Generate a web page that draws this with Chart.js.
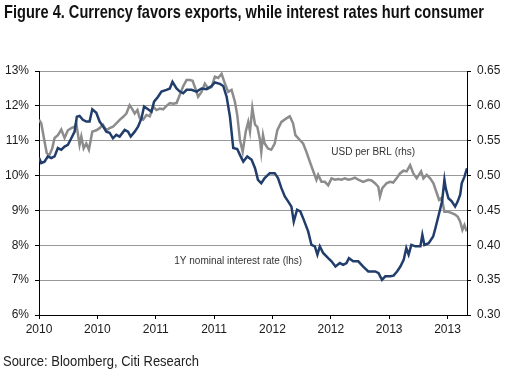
<!DOCTYPE html>
<html>
<head>
<meta charset="utf-8">
<script src="https://cdn.jsdelivr.net/npm/chart.js@4.4.0/dist/chart.umd.min.js"></script>
<style>
html, body { margin: 0; padding: 0; background: #fff; }
#wrap { position: relative; width: 506px; height: 380px; overflow: hidden; }
#chart { position: absolute; left: 0; top: 0; }
.txt { position: absolute; white-space: nowrap; transform-origin: 0 0; line-height: 1; }
#title { left: 4px; top: 1px; font: bold 19px "Liberation Sans Narrow", "Arial Narrow", "Liberation Sans", Arial, sans-serif; color: #111; }
#source { left: 3px; top: 352px; font: 15px "Liberation Sans", Arial, sans-serif; color: #222; }
</style>
</head>
<body>
<div id="wrap">
  <canvas id="chart" width="506" height="380"></canvas>
  <div id="title" class="txt">Figure 4. Currency favors exports, while interest rates hurt consumer</div>
  <div id="source" class="txt">Source: Bloomberg, Citi Research</div>
</div>
<script>
// months since Jan 2010
const rateMonths = [0, 0.23, 0.57, 0.91, 1.26, 1.6, 1.94, 2.29, 2.63, 2.97, 3.32, 3.66, 3.89, 4.17, 4.51, 4.86, 5.2, 5.48, 5.89, 6.23,
    6.57, 6.92, 7.26, 7.6, 7.95, 8.29, 8.81, 9.15, 9.43, 9.84, 10.18, 10.53, 10.8, 11.21, 11.56, 11.83, 12.24, 12.59, 13.11, 13.45,
    13.72, 14.14, 14.48, 14.82, 15.17, 15.68, 16.2, 16.71, 17.23, 17.74, 18.08, 18.6, 18.94, 19.29, 19.63, 19.97, 20.38, 20.73, 21.0, 21.41,
    21.86, 22.21, 22.51, 22.85, 23.2, 23.72, 24.23, 24.57, 24.92, 25.27, 25.61, 25.95, 26.19, 26.53, 26.87, 27.22, 27.67, 28.01, 28.36, 28.62,
    28.87, 29.21, 29.73, 30.07, 30.48, 30.93, 31.27, 31.61, 31.86, 32.3, 32.82, 33.33, 33.85, 34.05, 34.57, 34.91, 35.26, 35.6, 36.12, 36.45,
    36.81, 37.15, 37.49, 37.76, 38.0, 38.28, 38.69, 39.21, 39.41, 39.62, 40.06, 40.52, 40.75, 41.09, 41.44, 41.68, 41.81, 42.09, 42.43, 42.78,
    43.05, 43.3, 43.46, 43.74, 44.0];
const rateValues = [10.51, 10.36, 10.4, 10.55, 10.5, 10.55, 10.79, 10.74, 10.83, 10.88, 11.07, 11.26, 11.69, 11.71, 11.6, 11.55, 11.55, 11.9, 11.8, 11.55,
    11.42, 11.26, 11.23, 11.07, 11.17, 11.12, 11.31, 11.26, 11.12, 11.26, 11.4, 11.64, 11.98, 11.9, 11.83, 12.12, 12.26, 12.41, 12.46, 12.5,
    12.69, 12.5, 12.41, 12.36, 12.46, 12.46, 12.41, 12.5, 12.48, 12.57, 12.67, 12.63, 12.57, 12.26, 11.69, 10.79, 10.76, 10.55, 10.4, 10.55,
    10.45, 10.21, 9.88, 9.78, 9.93, 10.07, 10.07, 9.93, 9.64, 9.4, 9.26, 9.11, 8.68, 9.02, 8.97, 8.73, 8.4, 8.01, 7.97, 7.73,
    7.97, 7.78, 7.63, 7.54, 7.39, 7.49, 7.44, 7.49, 7.63, 7.54, 7.54, 7.39, 7.25, 7.25, 7.25, 7.2, 7.01, 7.11, 7.11, 7.13,
    7.25, 7.39, 7.58, 7.92, 7.73, 8.01, 7.97, 7.97, 8.3, 8.01, 8.06, 8.25, 8.49, 8.87, 9.26, 9.88, 9.64, 9.35, 9.26, 9.11,
    9.26, 9.45, 9.78, 9.97, 10.21];

const fxMonths = [0, 0.23, 0.57, 0.8, 1.08, 1.36, 1.6, 1.94, 2.29, 2.63, 2.97, 3.32, 3.66, 3.83, 4.17, 4.35, 4.59, 4.86, 5.13, 5.48,
    5.89, 6.23, 6.57, 6.92, 7.26, 7.6, 7.95, 8.29, 8.63, 8.98, 9.32, 9.6, 9.84, 10.12, 10.36, 10.7, 11.05, 11.39, 11.73, 12.08,
    12.42, 12.76, 13.11, 13.45, 13.79, 14.14, 14.48, 14.82, 15.17, 15.51, 15.79, 16.13, 16.36, 16.71, 17.05, 17.39, 17.74, 18.08, 18.42, 18.77,
    19.11, 19.45, 19.8, 20.14, 20.38, 20.66, 20.94, 21.25, 21.51, 21.69, 21.93, 22.21, 22.44, 22.72, 22.85, 23.03, 23.2, 23.54, 23.88, 24.23,
    24.5, 24.92, 25.43, 25.78, 26.12, 26.36, 26.81, 27.15, 27.49, 27.84, 28.28, 28.52, 28.7, 29.04, 29.39, 29.73, 30.07, 30.42, 30.76, 31.1,
    31.45, 31.79, 32.13, 32.48, 32.82, 33.33, 33.85, 34.19, 34.54, 34.88, 35.05, 35.29, 35.73, 36.08, 36.42, 36.76, 37.11, 37.46, 37.8, 38.15,
    38.48, 38.83, 39.28, 39.52, 39.86, 40.21, 40.55, 40.89, 41.13, 41.4, 41.68, 42.09, 42.43, 42.78, 43.05, 43.3, 43.53, 43.74, 43.97];
const fxValues = [0.58, 0.575, 0.549, 0.532, 0.53, 0.539, 0.554, 0.558, 0.566, 0.554, 0.565, 0.568, 0.57, 0.575, 0.544, 0.556, 0.539, 0.546, 0.537, 0.563,
    0.565, 0.568, 0.573, 0.565, 0.568, 0.57, 0.575, 0.58, 0.584, 0.589, 0.601, 0.595, 0.589, 0.594, 0.582, 0.58, 0.587, 0.585, 0.599, 0.594,
    0.596, 0.595, 0.6, 0.604, 0.603, 0.604, 0.616, 0.628, 0.637, 0.637, 0.636, 0.623, 0.613, 0.62, 0.632, 0.625, 0.627, 0.642, 0.64, 0.646,
    0.632, 0.62, 0.623, 0.606, 0.587, 0.551, 0.534, 0.563, 0.577, 0.563, 0.597, 0.573, 0.57, 0.551, 0.534, 0.558, 0.546, 0.539, 0.537, 0.546,
    0.565, 0.577, 0.582, 0.585, 0.575, 0.558, 0.551, 0.546, 0.534, 0.52, 0.503, 0.494, 0.501, 0.491, 0.491, 0.486, 0.496, 0.494, 0.495, 0.494,
    0.496, 0.494, 0.495, 0.497, 0.494, 0.491, 0.494, 0.493, 0.489, 0.484, 0.47, 0.482, 0.489, 0.491, 0.49, 0.496, 0.503, 0.507, 0.506, 0.515,
    0.503, 0.496, 0.506, 0.496, 0.501, 0.496, 0.489, 0.475, 0.465, 0.468, 0.448, 0.448, 0.446, 0.444, 0.441, 0.434, 0.422, 0.429, 0.42];

// una etiqueta cada 6 meses
const xTickLabels = ['2010', '2010', '2011', '2011', '2012', '2012', '2013', '2013'];

const notas = [
    { text: 'USD per BRL (rhs)', x: 34.36, y: 0.534, axis: 'y1' },
    { text: '1Y nominal interest rate (lhs)', x: 20.48, y: 7.556, axis: 'y' }
];

const ajustarTexto = (el, ancho) => {
    el.style.display = 'inline-block';
    const w = el.getBoundingClientRect().width;
    el.style.transform = `scaleX(${ancho / w})`;
};
ajustarTexto(document.getElementById('title'), 480);
ajustarTexto(document.getElementById('source'), 196);

const notasPlugin = {
    id: 'notas',
    afterDatasetsDraw(chart) {
        const ctx = chart.ctx;
        ctx.save();
        ctx.font = '10px "Liberation Sans", Arial, sans-serif';
        ctx.fillStyle = '#333';
        ctx.textAlign = 'center';
        ctx.textBaseline = 'middle';
        notas.forEach(n => {
            ctx.fillText(n.text, chart.scales.x.getPixelForValue(n.x), chart.scales[n.axis].getPixelForValue(n.y));
        });
        ctx.restore();
    }
};

const fuenteTicks = { family: '"Liberation Sans", Arial, sans-serif', size: 12 };

new Chart(document.getElementById('chart'), {
    type: 'line',
    data: {
        datasets: [{
            label: '1Y nominal interest rate (lhs)',
            data: rateMonths.map((m, i) => ({ x: m, y: rateValues[i] })),
            borderColor: '#203d6c',
            borderWidth: 2.5,
            pointRadius: 0,
            tension: 0,
            yAxisID: 'y'
        }, {
            label: 'USD per BRL (rhs)',
            data: fxMonths.map((m, i) => ({ x: m, y: fxValues[i] })),
            borderColor: '#8c8c8c',
            borderWidth: 2.5,
            pointRadius: 0,
            tension: 0,
            yAxisID: 'y1'
        }]
    },
    options: {
        responsive: false,
        animation: false,
        devicePixelRatio: 1,
        layout: { padding: { top: 71, left: 0, right: 0, bottom: 0 } },
        plugins: { legend: { display: false }, tooltip: { enabled: false } },
        scales: {
            x: {
                type: 'linear',
                min: 0,
                max: 44,
                afterBuildTicks: s => { s.ticks = xTickLabels.map((_, i) => ({ value: i * 6 })); },
                afterFit: s => { s.height = 65; },
                ticks: {
                    autoSkip: false,
                    maxRotation: 0,
                    padding: 3,
                    color: '#1a1a1a',
                    font: fuenteTicks,
                    callback: (v, i) => xTickLabels[i]
                },
                grid: { drawOnChartArea: false, drawTicks: true, tickLength: 4, tickColor: '#000' },
                border: { display: true, color: '#000', width: 1 }
            },
            y: {
                position: 'left',
                min: 6,
                max: 13,
                afterFit: s => { s.width = 39; },
                ticks: {
                    stepSize: 1,
                    padding: 6,
                    color: '#1a1a1a',
                    font: fuenteTicks,
                    callback: v => v + '%'
                },
                grid: { color: '#999', lineWidth: 1, tickLength: 4, tickColor: '#000' },
                border: { display: true, color: '#000', width: 1 }
            },
            y1: {
                position: 'right',
                min: 0.30,
                max: 0.65,
                afterFit: s => { s.width = 39; },
                ticks: {
                    stepSize: 0.05,
                    padding: 6,
                    color: '#1a1a1a',
                    font: fuenteTicks,
                    callback: v => Number(v).toFixed(2)
                },
                grid: { drawOnChartArea: false, tickLength: 4, tickColor: '#000' },
                border: { display: true, color: '#000', width: 1 }
            }
        }
    },
    plugins: [notasPlugin]
});
</script>
</body>
</html>
